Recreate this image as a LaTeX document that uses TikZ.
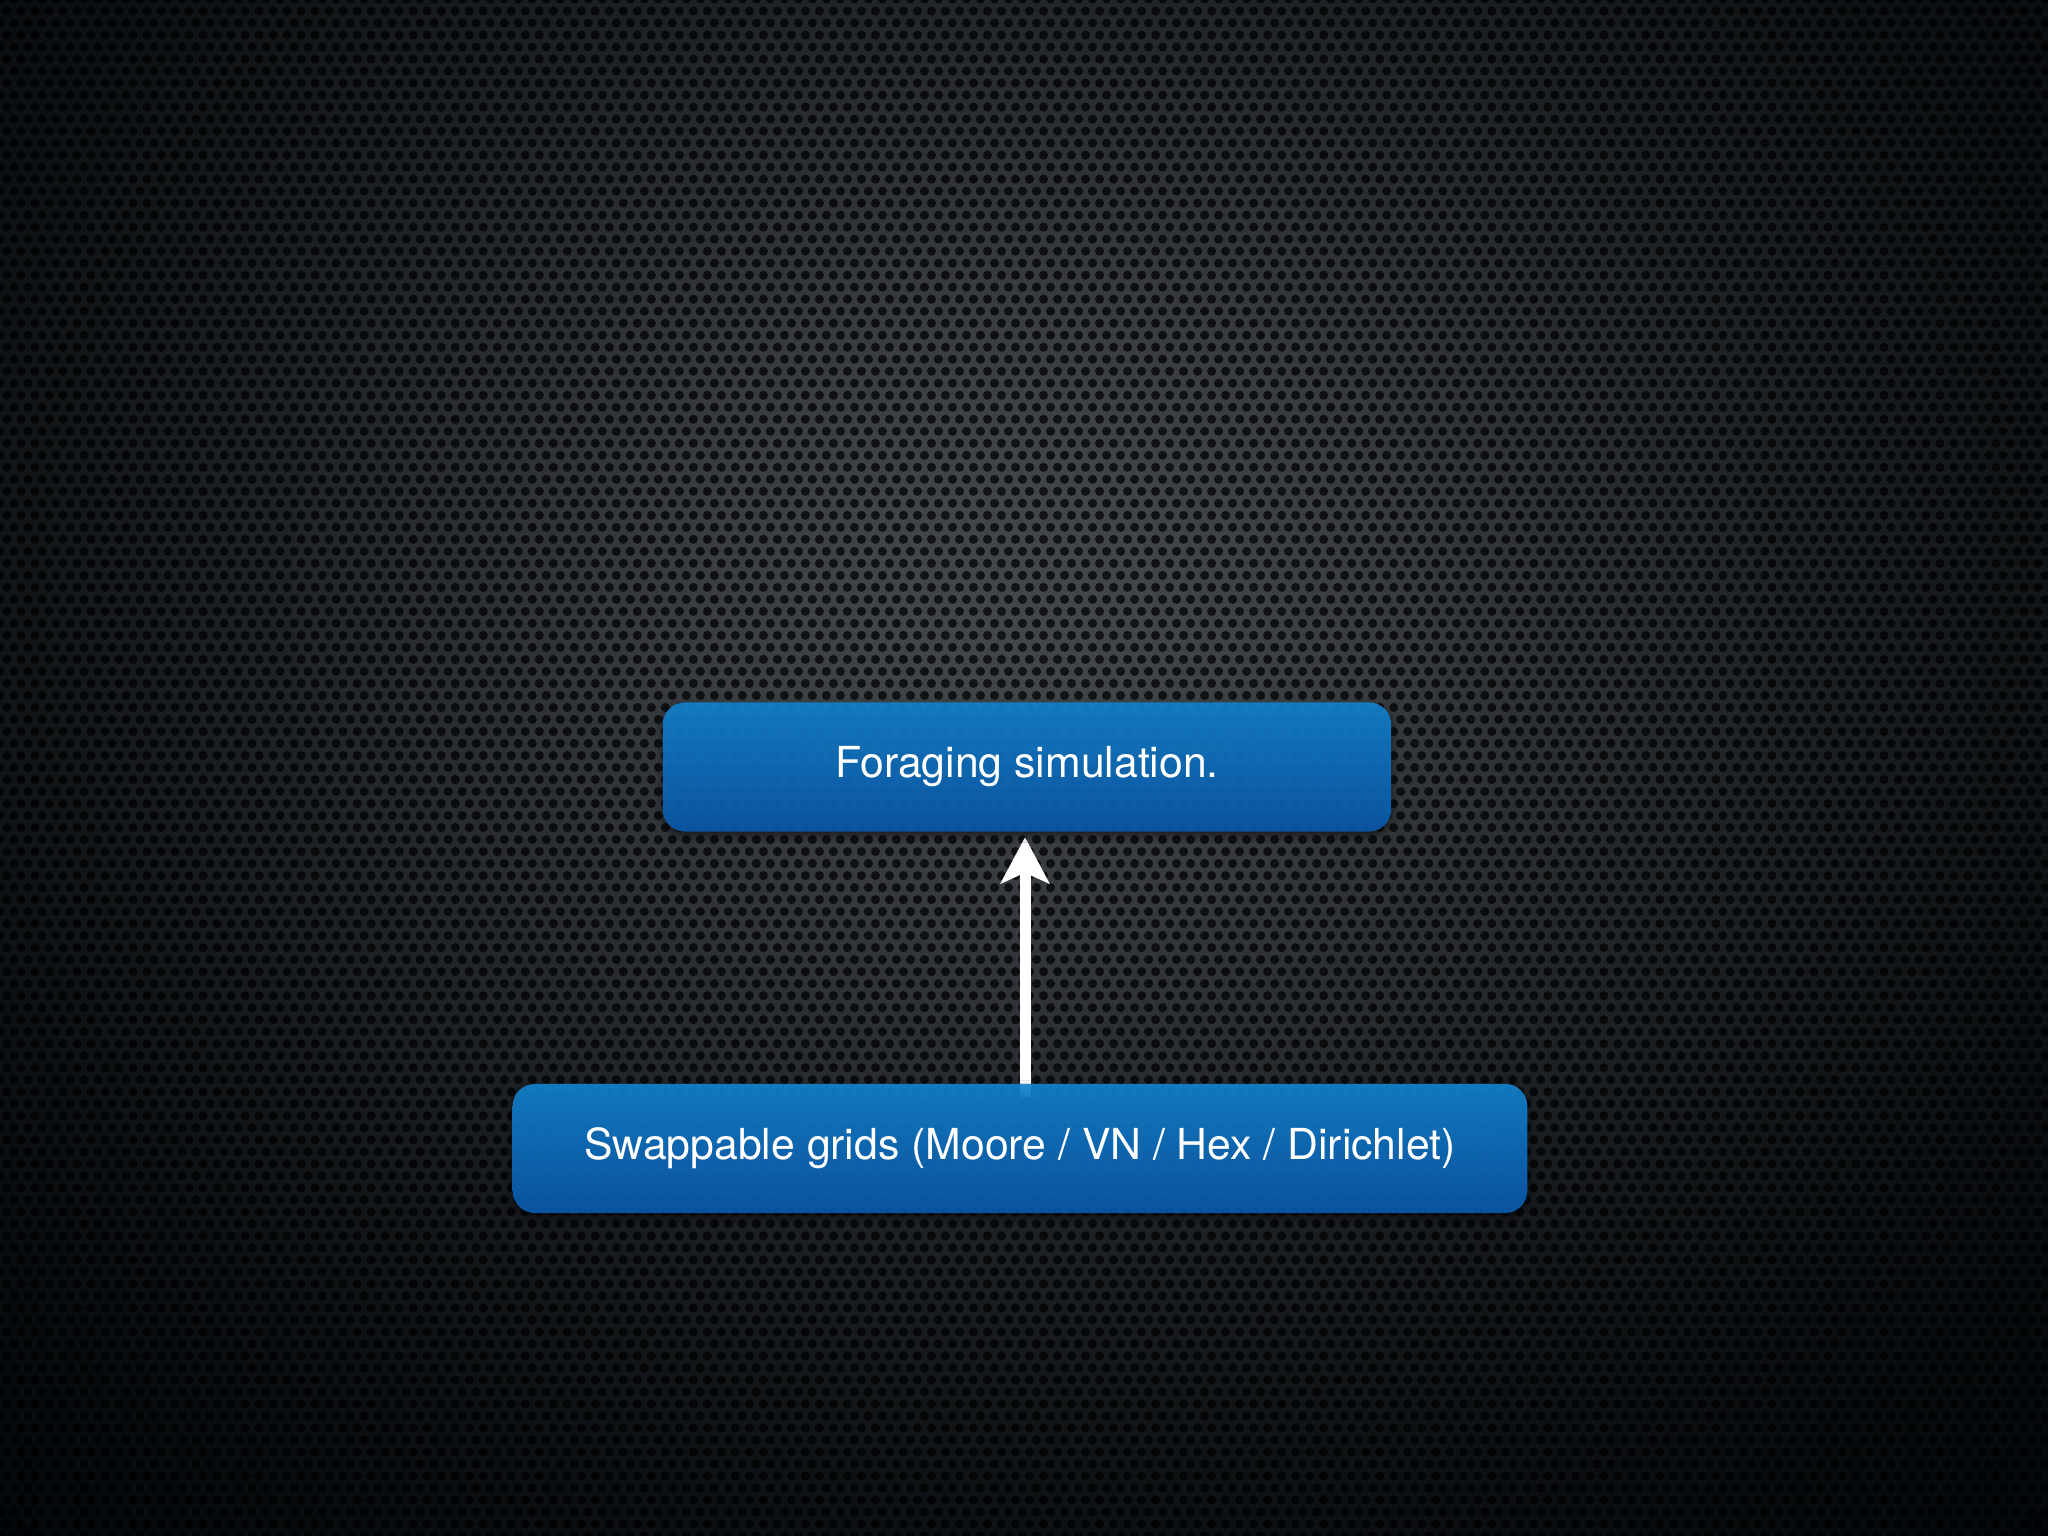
\documentclass[tikz,border=0pt]{standalone}
\usepackage{fontspec}
\setmainfont{TeX Gyre Heros}
\usetikzlibrary{arrows.meta,patterns,shadows.blur}
\definecolor{bgA}{HTML}{42464B}
\definecolor{bgE}{HTML}{030609}
\definecolor{boxtop}{HTML}{1384D0}
\definecolor{boxbot}{HTML}{0A5AAE}
\pgfdeclarepatternformonly{holes}{\pgfpoint{-2pt}{-2pt}}{\pgfpoint{6pt}{9pt}}{\pgfpoint{3.983pt}{6.829pt}}{%
  \pgfpathcircle{\pgfpoint{0pt}{0pt}}{1.3pt}%
  \pgfpathcircle{\pgfpoint{1.992pt}{3.415pt}}{1.3pt}%
  \pgfusepath{fill}}
\newcommand\lowtxt[1]{\raisebox{-1.3pt}{#1}}
\tikzset{
  box/.style={rectangle, rounded corners=0.22cm, top color=boxtop, bottom color=boxbot,
    fill opacity=0.9, text opacity=1, text=white, inner sep=0pt, minimum height=1.29cm,
    font=\fontsize{12.15pt}{14pt}\selectfont,
    blur shadow={shadow xshift=0pt, shadow yshift=-0.04cm, shadow blur radius=0.07cm, shadow opacity=60}},
  uparrow/.style={draw=white, line width=3.13pt, -{Stealth[length=13.1pt, width=13.7pt, inset=3pt]}}
}
\begin{document}
\begin{tikzpicture}[x=0.01cm, y=-0.01cm]
\useasboundingbox (0,0) rectangle (2048,1536);
\fill[bgE] (0,0) rectangle (2048,1536);
\begin{scope}
\clip (0,0) rectangle (2048,1536);
\foreach \k in {80,79,...,1} {
  \pgfmathsetmacro\rr{\k/80}
  \pgfmathsetmacro\pp{100*exp(-(\rr/0.56)^2)}
  \fill[bgA!\pp!bgE] (1024,590) ellipse ({1500*\rr} and {1250*\rr});
}
\fill[pattern=holes, pattern color=black, fill opacity=0.72] (0,0) rectangle (2048,1536);
\end{scope}
\coordinate (tp) at (1027,767);
\coordinate (bp) at (1020,1148.5);
\node[inner sep=0pt, minimum width=7.28cm, minimum height=1.29cm] (topghost) at (tp) {};
\coordinate (astart) at (1025,1097);
\draw[uparrow, shorten >=1.4pt] (astart) -- (astart |- topghost.south);
\node[box, minimum width=7.28cm] (top) at (tp) {\lowtxt{Foraging simulation.}};
\node[box, minimum width=10.14cm] (bot) at (bp) {\lowtxt{Swappable grids (Moore / VN / Hex / Dirichlet)}};
\end{tikzpicture}
\end{document}
